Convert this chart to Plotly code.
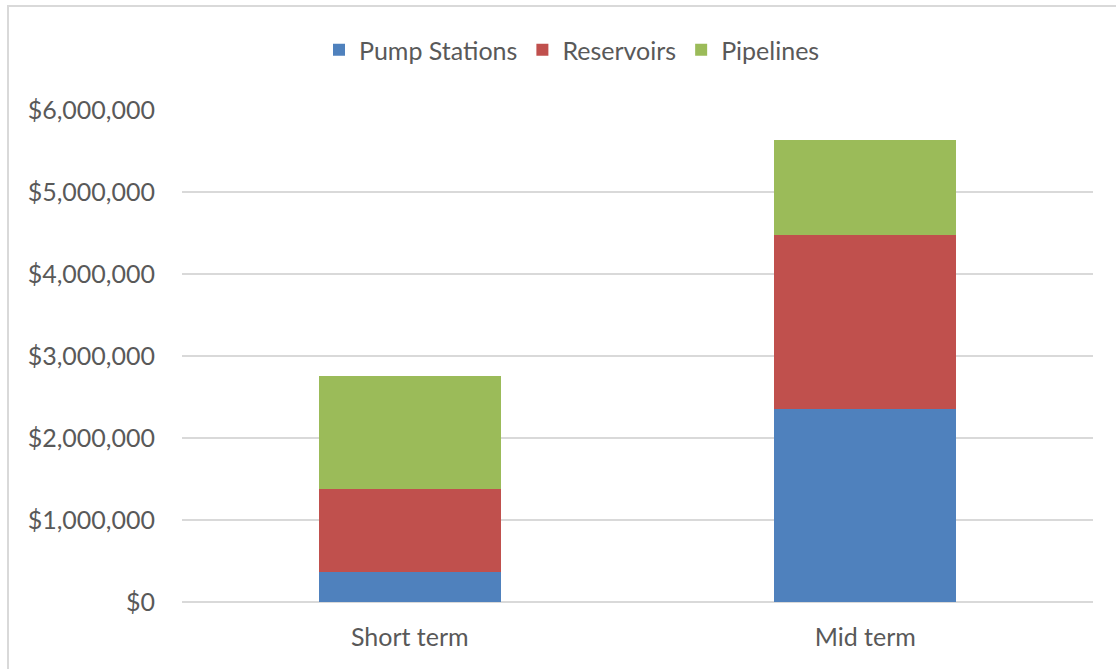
import plotly.graph_objects as go

# Capital cost by project phase
phases = ["Short term", "Mid term"]
pump_stations = [370000, 2350000]
reservoirs = [1010000, 2120000]
pipelines = [1380000, 1165000]

series_names = ["Pump Stations", "Reservoirs", "Pipelines"]
series_colors = ["#4F81BD", "#C0504D", "#9BBB59"]
y_ticks = [0, 1000000, 2000000, 3000000, 4000000, 5000000, 6000000]
y_tick_text = ["$0", "$1,000,000", "$2,000,000", "$3,000,000",
               "$4,000,000", "$5,000,000", "$6,000,000"]

W, H = 1116, 669
L, R, T, B = 182, W - 1093, 110, 67

font_family = "Lato, 'Open Sans', sans-serif"
text_color = "#595959"
grid_color = "#D9D9D9"
fs = 25

fig = go.Figure()
for name, vals, col in zip(series_names, [pump_stations, reservoirs, pipelines], series_colors):
    fig.add_trace(go.Bar(
        name=name, x=phases, y=vals,
        marker=dict(color=col, line=dict(width=0)),
    ))

plot_w = W - L - R
plot_h = H - T - B

# outer chart frame
fig.add_shape(
    type="rect", xref="paper", yref="paper",
    x0=(8 - L) / plot_w, x1=(W + 20 - L) / plot_w,
    y0=-(H + 20 - T - plot_h) / plot_h, y1=1 + (T - 6) / plot_h,
    line=dict(color=grid_color, width=2), fillcolor="rgba(0,0,0,0)", layer="below",
)

fig.update_layout(
    width=W, height=H,
    margin=dict(l=L, r=R, t=T, b=B),
    barmode="stack",
    bargap=0.6,
    paper_bgcolor="white",
    plot_bgcolor="white",
    font=dict(family=font_family, size=fs, color=text_color),
    showlegend=True,
    legend=dict(
        orientation="h", x=(572 - L) / plot_w, xanchor="center",
        y=1 + (T - 50) / plot_h, yanchor="middle",
        font=dict(size=fs, color=text_color), traceorder="normal",
        itemwidth=30, bgcolor="rgba(0,0,0,0)",
    ),
    xaxis=dict(
        showgrid=False, showline=False, zeroline=False,
        ticks="", ticklabelstandoff=18,
        tickfont=dict(size=fs, color=text_color),
    ),
    yaxis=dict(
        range=[0, 6000000], tickvals=y_ticks, ticktext=y_tick_text,
        showgrid=True, gridcolor=grid_color, gridwidth=2,
        zeroline=True, zerolinecolor=grid_color, zerolinewidth=2,
        showline=False, ticks="", ticklabelstandoff=26,
        tickfont=dict(size=fs, color=text_color),
    ),
)

fig.write_html("out.html")
